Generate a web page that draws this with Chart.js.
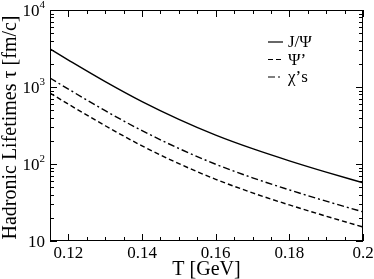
<!DOCTYPE html>
<html>
<head>
<meta charset="utf-8">
<script src="https://cdn.jsdelivr.net/npm/chart.js@4/dist/chart.umd.min.js"></script>
<style>
  html, body { margin: 0; padding: 0; background: #fff; }
  #chart { display: block; }
</style>
</head>
<body>
<canvas id="chart" width="374" height="279"></canvas>
<script>
// temperatures (GeV) and hadronic lifetimes (fm/c)
const temps    = [0.115, 0.12, 0.13, 0.14, 0.15, 0.16, 0.17, 0.18, 0.19, 0.2];
const jpsi     = [3120, 2239, 1175, 646, 380, 237, 158, 110, 78.5, 57.1];
const psiPrime = [834, 598, 314, 172, 101, 63.3, 42.2, 29.4, 21.0, 15.2];
const chis     = [1307, 938, 492, 271, 159, 99.3, 66.2, 46.1, 32.9, 23.9];

const legendLabels = ['J/\u03A8', '\u03A8\u2019', '\u03C7\u2019s'];
const xTicks = [0.12, 0.14, 0.16, 0.18, 0.2];
const xTickLabels = ['0.12', '0.14', '0.16', '0.18', '0.2'];
const yDecades = [1, 2, 3, 4];
const yExpLabels = ['', '2', '3', '4'];

const serif = '"Liberation Serif", "DejaVu Serif", serif';

function pts(ys) { return temps.map((t, i) => ({ x: t, y: ys[i] })); }

const styles = [
  { data: jpsi, dash: [] },
  { data: psiPrime, dash: [5, 3] },
  { data: chis, dash: [7, 3, 2, 3] }
];

// frame, inward ticks, tick labels, titles, legend
const decor = {
  id: 'decor',
  afterDraw(chart) {
    const ctx = chart.ctx;
    const a = chart.chartArea;
    const xs = chart.scales.x, ys = chart.scales.y;
    ctx.save();
    ctx.strokeStyle = '#000';
    ctx.lineWidth = 1;
    ctx.strokeRect(a.left + 0.5, a.top + 0.5, a.right - a.left - 1, a.bottom - a.top - 1);

    ctx.beginPath();
    for (let k = 0; k <= 17; k++) {
      const v = 0.115 + k * 0.005;
      const major = xTicks.some(t => Math.abs(t - v) < 1e-6);
      const len = major ? 7 : 4;
      const px = Math.round(xs.getPixelForValue(v)) + 0.5;
      ctx.moveTo(px, a.bottom); ctx.lineTo(px, a.bottom - len);
      ctx.moveTo(px, a.top); ctx.lineTo(px, a.top + len);
    }
    for (let d = 1; d <= 3; d++) {
      for (let m = 1; m <= 9; m++) {
        const v = m * Math.pow(10, d);
        const len = m === 1 ? 7 : 4;
        const py = Math.round(ys.getPixelForValue(v)) + 0.5;
        ctx.moveTo(a.left, py); ctx.lineTo(a.left + len, py);
        ctx.moveTo(a.right, py); ctx.lineTo(a.right - len, py);
      }
    }
    ctx.stroke();

    ctx.fillStyle = '#000';
    ctx.font = '17px ' + serif;
    ctx.textAlign = 'center';
    ctx.textBaseline = 'alphabetic';
    xTicks.forEach((t, i) => {
      ctx.fillText(xTickLabels[i], xs.getPixelForValue(t), a.bottom + 17);
    });

    yDecades.forEach((d, i) => {
      const py = ys.getPixelForValue(Math.pow(10, d));
      const exp = yExpLabels[i];
      ctx.font = '11px ' + serif;
      const ew = exp ? ctx.measureText(exp).width : 0;
      const right = a.left - 5;
      if (exp) {
        ctx.textAlign = 'right';
        ctx.fillText(exp, right, py - 2);
      }
      ctx.font = '17px ' + serif;
      ctx.textAlign = 'right';
      ctx.fillText('10', right - ew, py + 6);
    });

    ctx.font = '20px ' + serif;
    ctx.textAlign = 'center';
    ctx.fillText('T [GeV]', (a.left + a.right) / 2, a.bottom + 34);

    ctx.save();
    ctx.translate(16, (a.top + a.bottom) / 2 + 2);
    ctx.rotate(-Math.PI / 2);
    ctx.fillText('Hadronic Lifetimes \u03C4 [fm/c]', 0, 0);
    ctx.restore();

    ctx.font = '17px ' + serif;
    ctx.textAlign = 'left';
    ctx.textBaseline = 'middle';
    styles.forEach((s, i) => {
      const y = 42 + i * 17.5;
      ctx.setLineDash(s.dash);
      ctx.lineWidth = 1.2;
      ctx.beginPath();
      ctx.moveTo(268, y); ctx.lineTo(283, y);
      ctx.stroke();
      ctx.setLineDash([]);
      ctx.fillText(legendLabels[i], 288, y + 1);
    });
    ctx.restore();
  }
};

new Chart(document.getElementById('chart'), {
  type: 'line',
  data: {
    datasets: styles.map((s, i) => ({
      label: legendLabels[i],
      data: pts(s.data),
      borderColor: '#000',
      borderWidth: 1.4,
      borderDash: s.dash,
      pointRadius: 0,
      fill: false,
      cubicInterpolationMode: 'monotone'
    }))
  },
  options: {
    responsive: false,
    animation: false,
    devicePixelRatio: 1,
    layout: { padding: { left: 50, right: 11, top: 10, bottom: 38 } },
    plugins: { legend: { display: false }, tooltip: { enabled: false } },
    scales: {
      x: { type: 'linear', display: false, min: 0.115, max: 0.2 },
      y: { type: 'logarithmic', display: false, min: 10, max: 10000 }
    }
  },
  plugins: [decor]
});
</script>
</body>
</html>
